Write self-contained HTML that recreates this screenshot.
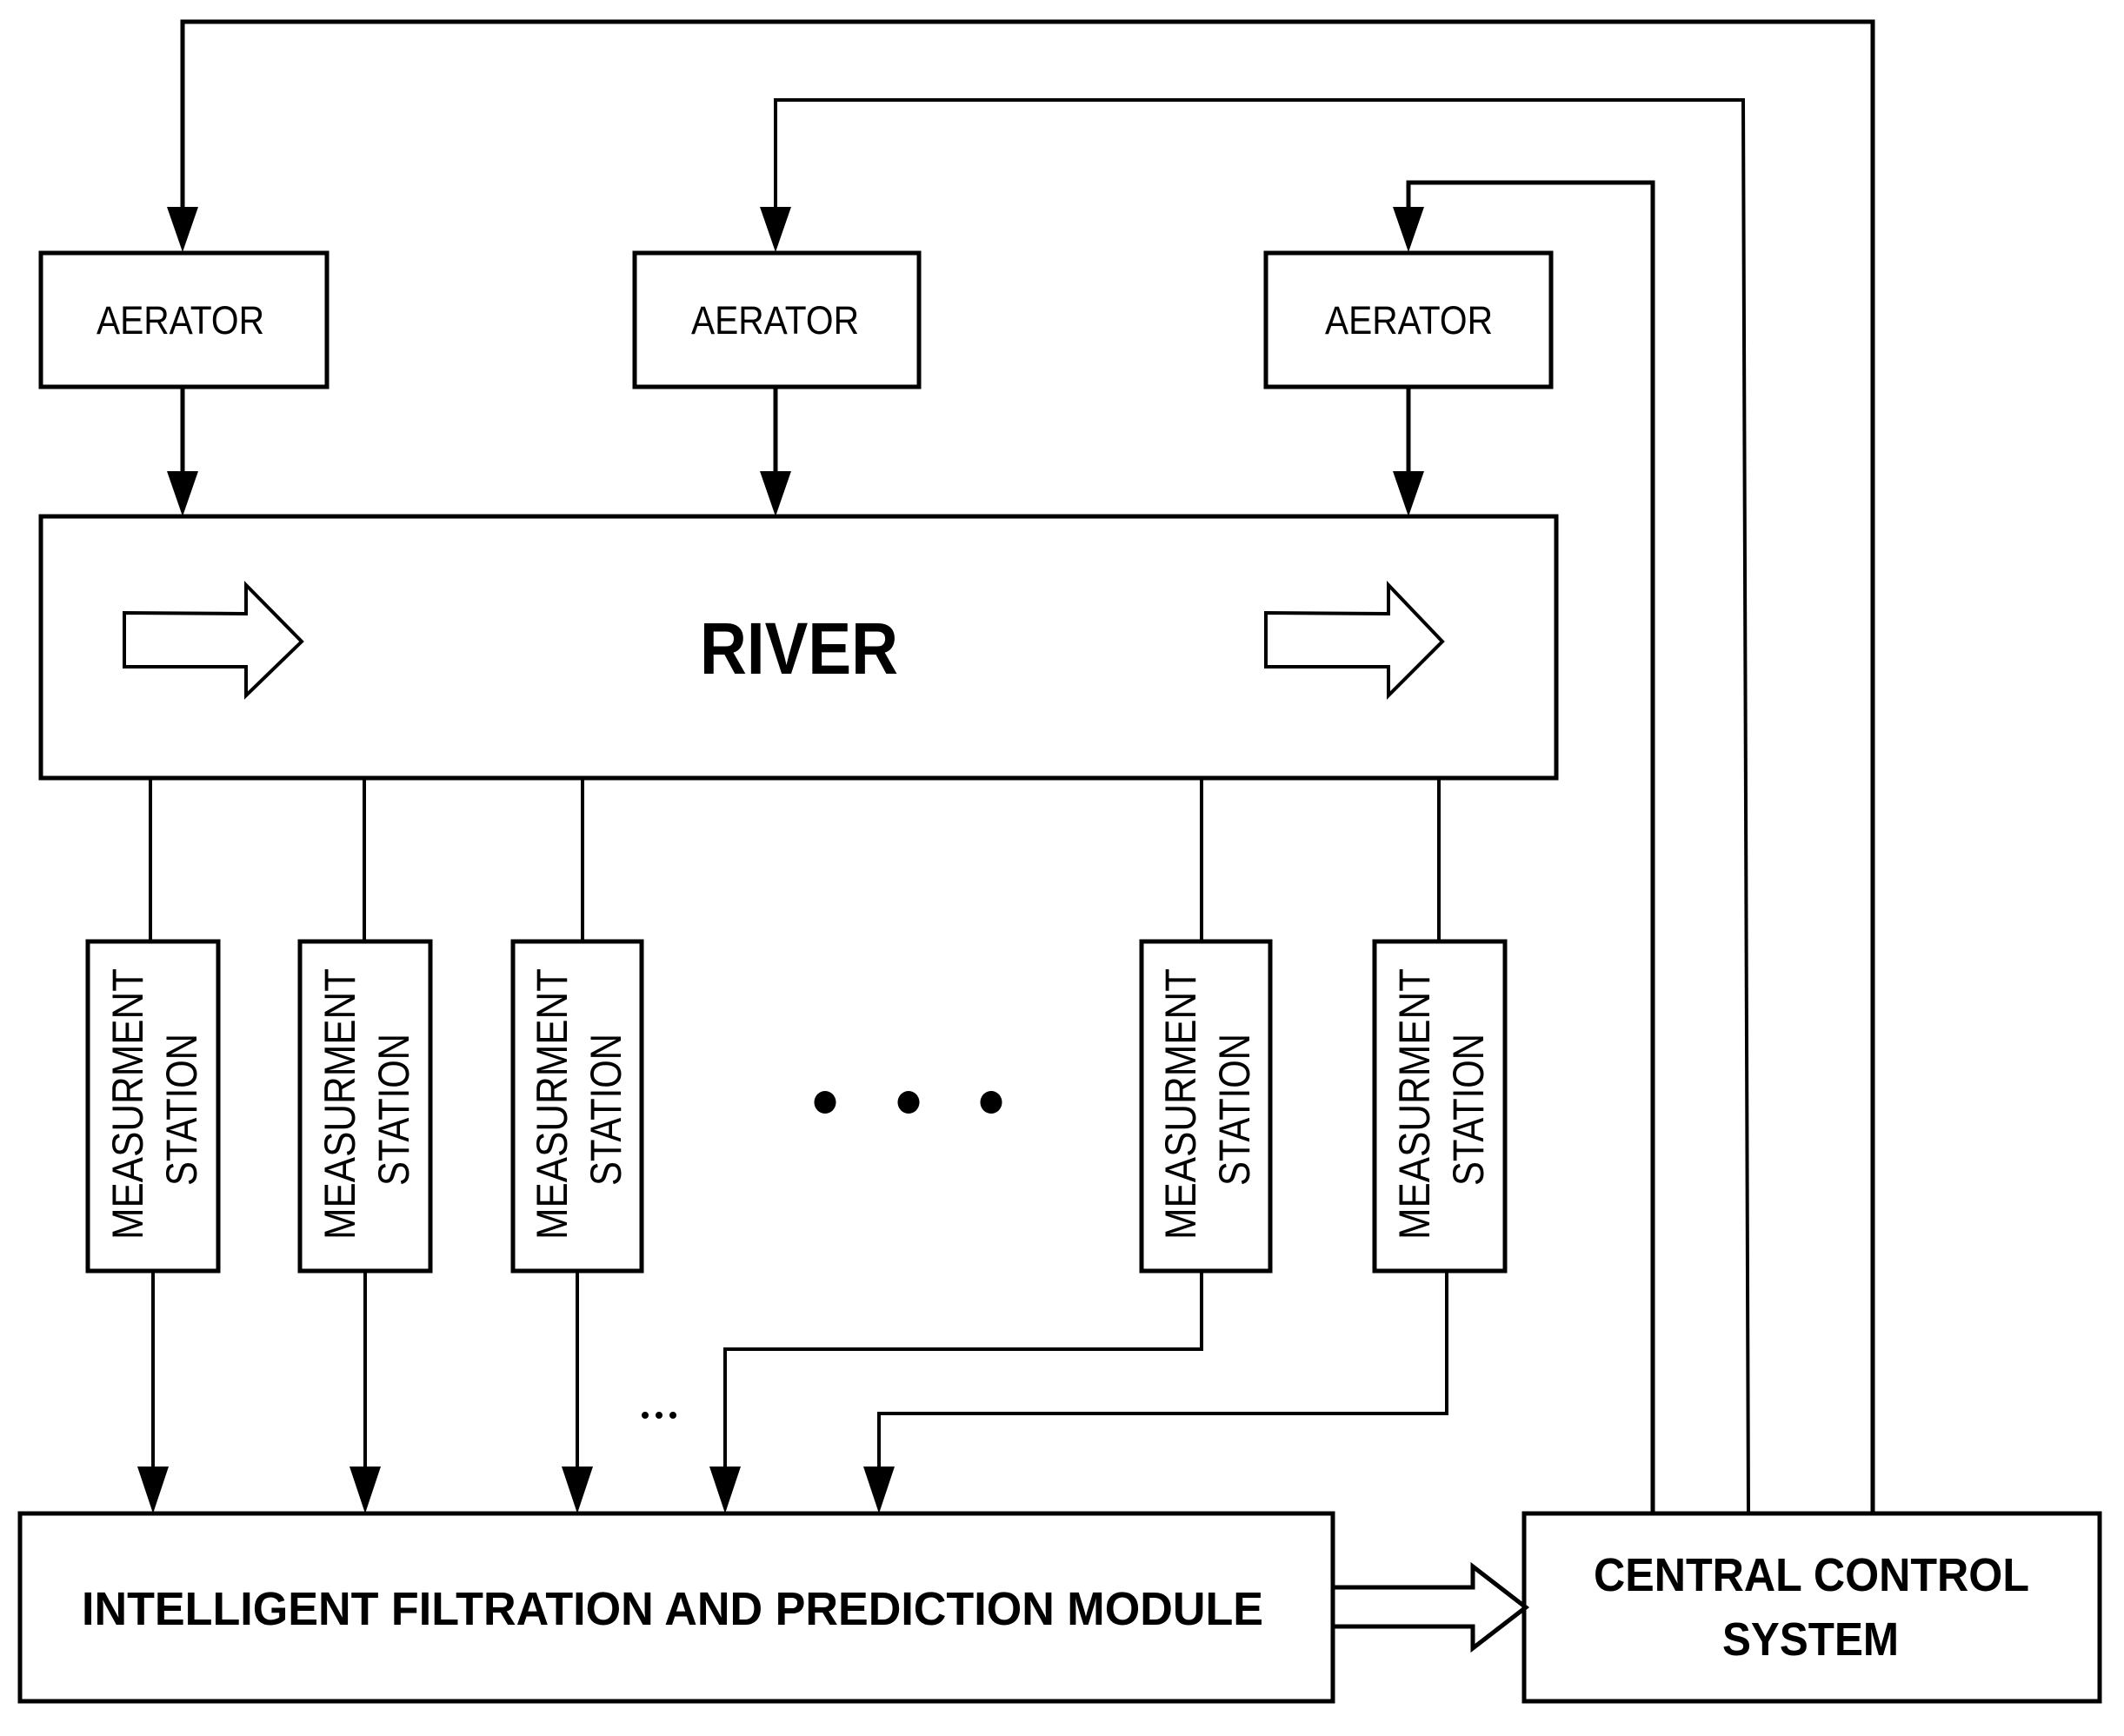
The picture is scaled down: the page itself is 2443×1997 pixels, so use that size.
<!DOCTYPE html>
<html><head><meta charset="utf-8"><style>html,body{margin:0;padding:0;background:#fff}svg{display:block}</style></head>
<body>
<svg width="2443" height="1997" viewBox="0 0 2443 1997" xmlns="http://www.w3.org/2000/svg" font-family="Liberation Sans, sans-serif">
<defs>
<marker id="ah" markerWidth="36" markerHeight="52" refX="18" refY="52" orient="0" markerUnits="userSpaceOnUse">
<path d="M0,0 L36,0 L18,52 Z" fill="#000"/>
</marker>
</defs>
<g fill="none" stroke="#000" stroke-width="5">
<!-- feedback lines -->
<polyline points="2154,1741 2154,25 210,25 210,240" stroke-width="5"/>
<polyline points="2011,1741 2005,115 892,115 892,240" stroke-width="4"/>
<polyline points="1901,1741 1901,210 1620,210 1620,240" stroke-width="5"/>
<!-- aerator to river -->
<line x1="210" y1="445" x2="210" y2="545"/>
<line x1="892" y1="445" x2="892" y2="545"/>
<line x1="1620" y1="445" x2="1620" y2="545"/>
<!-- boxes -->
<rect x="47" y="291" width="329" height="154"/>
<rect x="730" y="291" width="327" height="154"/>
<rect x="1456" y="291" width="328" height="154"/>
<rect x="47" y="594" width="1743" height="301"/>
<rect x="101" y="1083" width="150" height="379"/>
<rect x="345" y="1083" width="150" height="379"/>
<rect x="590" y="1083" width="148" height="379"/>
<rect x="1313" y="1083" width="148" height="379"/>
<rect x="1581" y="1083" width="150" height="379"/>
<rect x="23" y="1741" width="1510" height="216"/>
<rect x="1753" y="1741" width="662" height="216"/>
<!-- river to stations -->
<g stroke-width="4">
<line x1="173" y1="895" x2="173" y2="1083"/>
<line x1="419" y1="895" x2="419" y2="1083"/>
<line x1="670" y1="895" x2="670" y2="1083"/>
<line x1="1382" y1="895" x2="1382" y2="1083"/>
<line x1="1655" y1="895" x2="1655" y2="1083"/>
<!-- stations to module -->
<line x1="176" y1="1462" x2="176" y2="1690"/>
<line x1="420" y1="1462" x2="420" y2="1690"/>
<line x1="664" y1="1462" x2="664" y2="1690"/>
<polyline points="1382,1462 1382,1552 834,1552 834,1690"/>
<polyline points="1664,1462 1664,1626 1011,1626 1011,1690"/>
</g>
<!-- hollow arrows -->
<path d="M143,705 L283,706 L283,673 L347,738 L283,800 L283,767 L143,767 Z" stroke-width="4"/>
<path d="M1456,705 L1597,706 L1597,673 L1659,738 L1597,800 L1597,767 L1456,767 Z" stroke-width="4"/>
<path d="M1533,1826 L1694,1826 L1694,1802 L1755,1849 L1694,1896 L1694,1871 L1533,1871" stroke-width="5"/>
</g>
<!-- arrowheads -->
<g fill="#000">
<path d="M192,238 L228,238 L210,290 Z"/>
<path d="M874,238 L910,238 L892,290 Z"/>
<path d="M1602,238 L1638,238 L1620,290 Z"/>
<path d="M192,542 L228,542 L210,594 Z"/>
<path d="M874,542 L910,542 L892,594 Z"/>
<path d="M1602,542 L1638,542 L1620,594 Z"/>
<path d="M158,1687 L194,1687 L176,1741 Z"/>
<path d="M402,1687 L438,1687 L420,1741 Z"/>
<path d="M646,1687 L682,1687 L664,1741 Z"/>
<path d="M816,1687 L852,1687 L834,1741 Z"/>
<path d="M993,1687 L1029,1687 L1011,1741 Z"/>
<ellipse cx="949" cy="1268" rx="12.5" ry="13"/>
<ellipse cx="1045" cy="1268" rx="12.5" ry="13"/>
<ellipse cx="1140" cy="1268" rx="12.5" ry="13"/>
<circle cx="742" cy="1628" r="4"/>
<circle cx="758" cy="1628" r="4"/>
<circle cx="774" cy="1628" r="4"/>
</g>
<!-- text -->
<g fill="#000" font-size="45">
<text x="111" y="384" textLength="193" lengthAdjust="spacingAndGlyphs">AERATOR</text>
<text x="795" y="384" textLength="193" lengthAdjust="spacingAndGlyphs">AERATOR</text>
<text x="1524" y="384" textLength="193" lengthAdjust="spacingAndGlyphs">AERATOR</text>
</g>
<text x="805" y="775" font-size="84" font-weight="bold" textLength="228" lengthAdjust="spacingAndGlyphs">RIVER</text>
<g fill="#000" font-size="50">
<text transform="translate(164,1426) rotate(-90)" textLength="312" lengthAdjust="spacingAndGlyphs">MEASURMENT</text>
<text transform="translate(226,1364) rotate(-90)" textLength="175" lengthAdjust="spacingAndGlyphs">STATION</text>
<text transform="translate(408,1426) rotate(-90)" textLength="312" lengthAdjust="spacingAndGlyphs">MEASURMENT</text>
<text transform="translate(470,1364) rotate(-90)" textLength="175" lengthAdjust="spacingAndGlyphs">STATION</text>
<text transform="translate(652,1426) rotate(-90)" textLength="312" lengthAdjust="spacingAndGlyphs">MEASURMENT</text>
<text transform="translate(714,1364) rotate(-90)" textLength="175" lengthAdjust="spacingAndGlyphs">STATION</text>
<text transform="translate(1375,1426) rotate(-90)" textLength="312" lengthAdjust="spacingAndGlyphs">MEASURMENT</text>
<text transform="translate(1437,1364) rotate(-90)" textLength="175" lengthAdjust="spacingAndGlyphs">STATION</text>
<text transform="translate(1644,1426) rotate(-90)" textLength="312" lengthAdjust="spacingAndGlyphs">MEASURMENT</text>
<text transform="translate(1706,1364) rotate(-90)" textLength="175" lengthAdjust="spacingAndGlyphs">STATION</text>
</g>
<g fill="#000" font-size="54" font-weight="bold">
<text x="94" y="1869" textLength="1359" lengthAdjust="spacingAndGlyphs">INTELLIGENT FILTRATION AND PREDICTION MODULE</text>
<text x="1833" y="1830" textLength="501" lengthAdjust="spacingAndGlyphs">CENTRAL CONTROL</text>
<text x="1981" y="1904" textLength="203" lengthAdjust="spacingAndGlyphs">SYSTEM</text>
</g>
</svg>
</body></html>
